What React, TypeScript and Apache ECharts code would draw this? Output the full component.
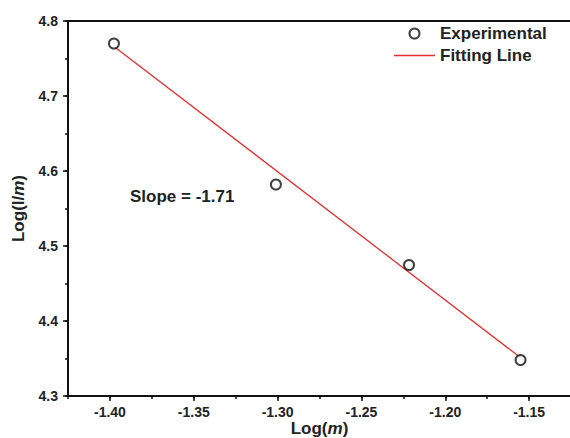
import React, { useEffect, useRef } from "react";
import * as echarts from "echarts";

const logM = [-1.3976, -1.301, -1.2216, -1.1551];
const logIm = [4.770, 4.582, 4.4747, 4.348];
const fitX = [-1.397, -1.155];
const fitY = [4.765, 4.351];
const xTicks = [-1.4, -1.35, -1.3, -1.25, -1.2, -1.15];
const yTicks = [4.3, 4.4, 4.5, 4.6, 4.7, 4.8];
const slopeLabel = "Slope = -1.71";

const FONT = "'Liberation Sans', Arial, sans-serif";

export default function App() {
  const ref = useRef<HTMLDivElement>(null);
  useEffect(() => {
    if (!ref.current) return;
    const chart = echarts.init(ref.current, null, { renderer: "svg" });
    const labelStyle = {
      color: "#222",
      fontWeight: "bold",
      fontSize: 14,
      fontFamily: FONT,
    };
    const nameRich = {
      a: { fontSize: 17, fontWeight: "bold", color: "#222", fontFamily: FONT },
      b: { fontSize: 17, fontWeight: "bold", fontStyle: "italic", color: "#222", fontFamily: FONT },
    };
    chart.setOption({
      animation: false,
      backgroundColor: "#fff",
      textStyle: { fontFamily: FONT },
      grid: { left: 68, top: 21, width: 503, height: 375, show: false, outerBoundsMode: "none", containLabel: false },
      xAxis: [
        {
          type: "value",
          min: -1.425,
          max: -1.125,
          interval: 0.025,
          axisLine: { show: true, onZero: false, lineStyle: { color: "#111", width: 2 } },
          axisTick: { show: true, length: 3, lineStyle: { color: "#111", width: 1.5 } },
          axisLabel: { show: false },
          splitLine: { show: false },
          name: "{a|Log(}{b|m}{a|)}",
          nameLocation: "middle",
          nameGap: 24,
          nameMoveOverlap: false,
          nameTextStyle: { rich: nameRich },
        },
        {
          type: "value",
          position: "bottom",
          min: -1.425,
          max: -1.125,
          axisLine: { show: false, onZero: false },
          axisTick: { show: true, length: 5, customValues: xTicks, lineStyle: { color: "#111", width: 1.5 } },
          axisLabel: {
            ...labelStyle,
            margin: 9,
            customValues: xTicks,
            formatter: (v: number) => v.toFixed(2),
          },
          splitLine: { show: false },
        },
      ],
      yAxis: [
        {
          type: "value",
          min: 4.3,
          max: 4.8,
          interval: 0.05,
          axisLine: { show: true, onZero: false, lineStyle: { color: "#111", width: 2 } },
          axisTick: { show: true, length: 3, lineStyle: { color: "#111", width: 1.5 } },
          axisLabel: { show: false },
          splitLine: { show: false },
          name: "{a|Log(I/}{b|m}{a|)}",
          nameLocation: "middle",
          nameGap: 41,
          nameRotate: 90,
          nameMoveOverlap: false,
          nameTextStyle: { rich: nameRich },
        },
        {
          type: "value",
          position: "left",
          min: 4.3,
          max: 4.8,
          axisLine: { show: false, onZero: false },
          axisTick: { show: true, length: 5, customValues: yTicks, lineStyle: { color: "#111", width: 1.5 } },
          axisLabel: {
            ...labelStyle,
            margin: 10,
            customValues: yTicks,
            formatter: (v: number) => v.toFixed(1),
          },
          splitLine: { show: false },
        },
      ],
      legend: {
        orient: "vertical",
        left: 389,
        top: 20,
        itemWidth: 41,
        itemHeight: 10,
        itemGap: 5,
        textStyle: { fontSize: 17, lineHeight: 10, fontWeight: "bold", color: "#222", fontFamily: FONT },
        data: [
          { name: "Experimental", icon: "emptyCircle" },
          { name: "Fitting Line", icon: "path://M0 0 H41 V1.3 H0 Z" },
        ],
      },
      graphic: [
        {
          type: "line",
          shape: { x1: 67, y1: 21, x2: 580, y2: 21 },
          style: { stroke: "#111", lineWidth: 2 },
        },
        {
          type: "text",
          left: 130,
          top: 188,
          style: { text: slopeLabel, font: `bold 17px ${FONT}`, fill: "#222" },
        },
      ],
      series: [
        {
          name: "Fitting Line",
          type: "line",
          data: fitX.map((x, i) => [x, fitY[i]]),
          symbol: "none",
          lineStyle: { color: "#e03030", width: 1.3 },
          itemStyle: { color: "#e03030" },
          z: 2,
        },
        {
          name: "Experimental",
          type: "scatter",
          data: logM.map((x, i) => [x, logIm[i]]),
          symbol: "emptyCircle",
          symbolSize: 10,
          itemStyle: { color: "#111", borderColor: "#111", borderWidth: 2.2 },
          z: 3,
        },
      ],
    });
    return () => chart.dispose();
  }, []);
  return <div ref={ref} style={{ width: 570, height: 438, position: "absolute", left: 0, top: 0 }} />;
}
